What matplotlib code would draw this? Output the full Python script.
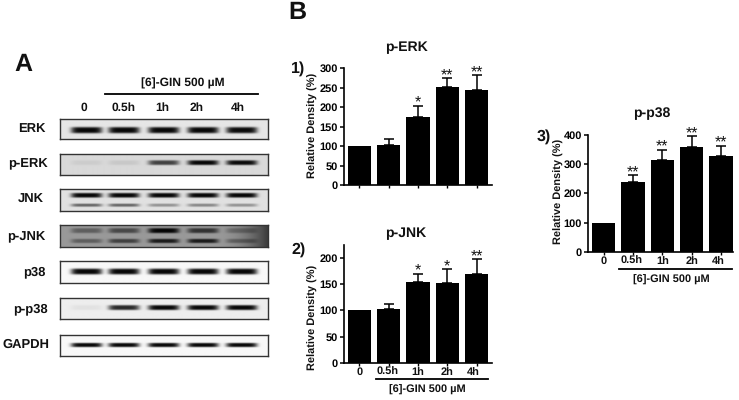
import numpy as np
import matplotlib
matplotlib.use("Agg")
import matplotlib.pyplot as plt

plt.rcParams['font.family'] = ['Liberation Sans', 'DejaVu Sans']
plt.rcParams['font.weight'] = 'bold'
plt.rcParams['text.hinting'] = 'no_hinting'
plt.rcParams['text.hinting_factor'] = 1

W, H = 739, 400
times = ['0', '0.5h', '1h', '2h', '4h']
dose_label = '[6]-GIN 500 µM'

erk_vals = [100, 103, 174, 251, 245]
erk_tops = [100, 118, 203, 274, 281]
erk_sig = ['', '', '*', '**', '**']
jnk_vals = [100, 102, 155, 153, 170]
jnk_tops = [100, 112, 170, 179, 198]
jnk_sig = ['', '', '*', '*', '**']
p38_vals = [100, 237, 313, 357, 326]
p38_tops = [100, 261, 348, 394, 362]
p38_sig = ['', '**', '**', '**', '**']

# blot rows: label, background grey, bands (relative height in panel, lane strengths)
blot_rows = ['ERK', 'p-ERK', 'JNK', 'p-JNK', 'p38', 'p-p38', 'GAPDH']
blot_bg = [0.90, 0.85, 0.88, 0.60, 0.97, 0.93, 0.97]
blot_bands = [
    [(0.58, [1.0, 1.0, 1.0, 1.0, 0.98], 3.2)],
    [(0.41, [0.06, 0.08, 0.72, 1.0, 0.98], 2.5)],
    [(0.28, [1.0, 1.0, 1.0, 1.0, 1.0], 2.4), (0.74, [0.55, 0.55, 0.35, 0.40, 0.35], 1.6)],
    [(0.25, [0.40, 0.55, 1.0, 0.70, 0.30], 2.6), (0.73, [0.40, 0.60, 0.85, 0.85, 0.35], 2.2)],
    [(0.50, [1.0, 1.0, 1.0, 1.0, 1.0], 3.0)],
    [(0.48, [0.05, 0.85, 1.0, 1.0, 1.0], 2.5)],
    [(0.50, [1.0, 1.0, 1.0, 1.0, 1.0], 2.1)],
]
blot_boxes = [(118.7, 139.3), (154, 175), (189, 210.7), (224.7, 246.7),
              (260.7, 283.3), (298, 319.3), (334.7, 356)]
row_label_pos = [(32, 129), (27.7, 164), (31, 200), (26.7, 236.7),
                 (34, 272), (30, 308.7), (26, 344.7)]
lane_centres = [86.7, 124, 163.7, 203, 241.7]
lane_label_x = [84, 124, 162, 197, 238]
tick_nudges = [0, -1, 0, 0, -3]

fig = plt.figure(figsize=(W / 100, H / 100), dpi=100, facecolor='white')


def box(x0, y0, x1, y1):
    return [x0 / W, 1 - y1 / H, (x1 - x0) / W, (y1 - y0) / H]


def txt(x, y, s, size, **kw):
    fig.text(x / W, 1 - y / H, s, fontsize=size, ha=kw.pop('ha', 'center'),
             va=kw.pop('va', 'center'), fontweight='bold', color='#111111', **kw)


def hline(x0, x1, y, lw=1.3):
    fig.add_artist(plt.Line2D([x0 / W, x1 / W], [1 - y / H, 1 - y / H], color='black', lw=lw))


# Panel A: blots
x0, x1 = 60.3, 267.7
for name, bg, bands, (y0, y1), (lx, ly) in zip(blot_rows, blot_bg, blot_bands, blot_boxes, row_label_pos):
    ax = fig.add_axes(box(x0, y0, x1, y1))
    nx, ny = 415, int((y1 - y0) * 2)
    xs = np.linspace(x0, x1, nx)
    ys = np.linspace(0, y1 - y0, ny)
    X, Y = np.meshgrid(xs, ys)
    dark = np.zeros_like(X)
    for frac, strengths, sig in bands:
        for c, s in zip(lane_centres, strengths):
            dark += s * np.exp(-((X - c) / 15.5) ** 6) * np.exp(-((Y - frac * (y1 - y0)) / sig) ** 4)
    img = bg * (1 - 0.97 * np.clip(dark, 0, 1))
    if name == 'p-JNK':
        img = img * (1 - 0.6 * np.clip((X - 215) / 52, 0, 1) ** 2)
    ax.imshow(img, cmap='gray', vmin=0, vmax=1, aspect='auto', extent=[x0, x1, y1 - y0, 0],
              interpolation='bilinear')
    ax.set_xticks([]); ax.set_yticks([])
    for sp in ax.spines.values():
        sp.set_linewidth(1.0); sp.set_color('#333333')
    txt(lx, ly, name, 9)

for x, t in zip(lane_label_x, times):
    txt(x, 107.7, t, 8.8)
txt(183, 83, dose_label, 8.8)
hline(105, 258, 94)
txt(23.3, 65, 'A', 18)
txt(297, 13, 'B', 18)


def bar_panel(bx0, bx1, by0, by1, ymax, ticks, vals, tops, sig, title, tpos, num, npos, ylab, labels):
    ax = fig.add_axes(box(bx0, by0, bx1, by1))
    xp = np.arange(len(vals))
    first = bx0 + 15.3
    pitch = 29.33
    ax.bar(xp, vals, width=0.795, color='black')
    errs = np.array(tops) - np.array(vals)
    mask = errs > 0
    ax.errorbar(xp[mask], np.array(vals)[mask], yerr=[np.zeros(mask.sum()), errs[mask]], fmt='none',
                ecolor='black', elinewidth=1.1, capsize=3.6, capthick=1.1)
    ax.set_xlim((bx0 - first) / pitch, (bx1 - first) / pitch)
    ax.set_ylim(0, ymax)
    ax.set_yticks(ticks)
    ax.set_xticks(xp)
    ax.set_xticklabels([])
    ax.tick_params(axis='y', length=3.0, width=1.1, labelsize=8.2, pad=1.5)
    ax.tick_params(axis='x', length=2.0, width=1.0)
    if labels:
        for x, t, dx in zip(xp, times, tick_nudges):
            ax.annotate(t, (x, 0), xytext=(dx * 0.72, -8.8), textcoords='offset points', ha='center',
                        va='baseline', fontsize=8.2, fontweight='bold', color='#111111',
                        annotation_clip=False)
    ax.patch.set_alpha(0)
    for s in ['top', 'right']:
        ax.spines[s].set_visible(False)
    for s in ['left', 'bottom']:
        ax.spines[s].set_linewidth(1.2)
    for x, t, s in zip(xp, tops, sig):
        if s:
            ax.annotate(s, (x, t), xytext=(0, -3.0), textcoords='offset points', ha='center',
                        va='bottom', fontsize=11.5, fontweight='normal', color='#111111')
    txt(tpos[0], tpos[1], title, 10)
    txt(npos[0], npos[1], num, 11.5)
    txt(ylab[0] + 1, ylab[1], 'Relative Density (%)', 7.6, rotation=90)


bar_panel(344, 491.7, 68, 185.3, 300, [0, 50, 100, 150, 200, 250, 300], erk_vals, erk_tops, erk_sig,
          'p-ERK', (406.7, 47), '1)', (297.7, 69), (312, 125), False)
bar_panel(344, 491.7, 245, 362.7, 225, [0, 50, 100, 150, 200], jnk_vals, jnk_tops, jnk_sig,
          'p-JNK', (405.7, 233), '2)', (299, 250), (312, 317), True)
bar_panel(588.3, 733, 134.7, 252, 400, [0, 100, 200, 300, 400], p38_vals, p38_tops, p38_sig,
          'p-p38', (652, 113), '3)', (544, 137), (557.7, 191), True)

hline(375.7, 487.7, 379)
txt(427.7, 390, dose_label, 7.8)
hline(619, 732, 269)
txt(671.7, 280, dose_label, 7.8)

fig.savefig('out.png', dpi=100, facecolor='white')
